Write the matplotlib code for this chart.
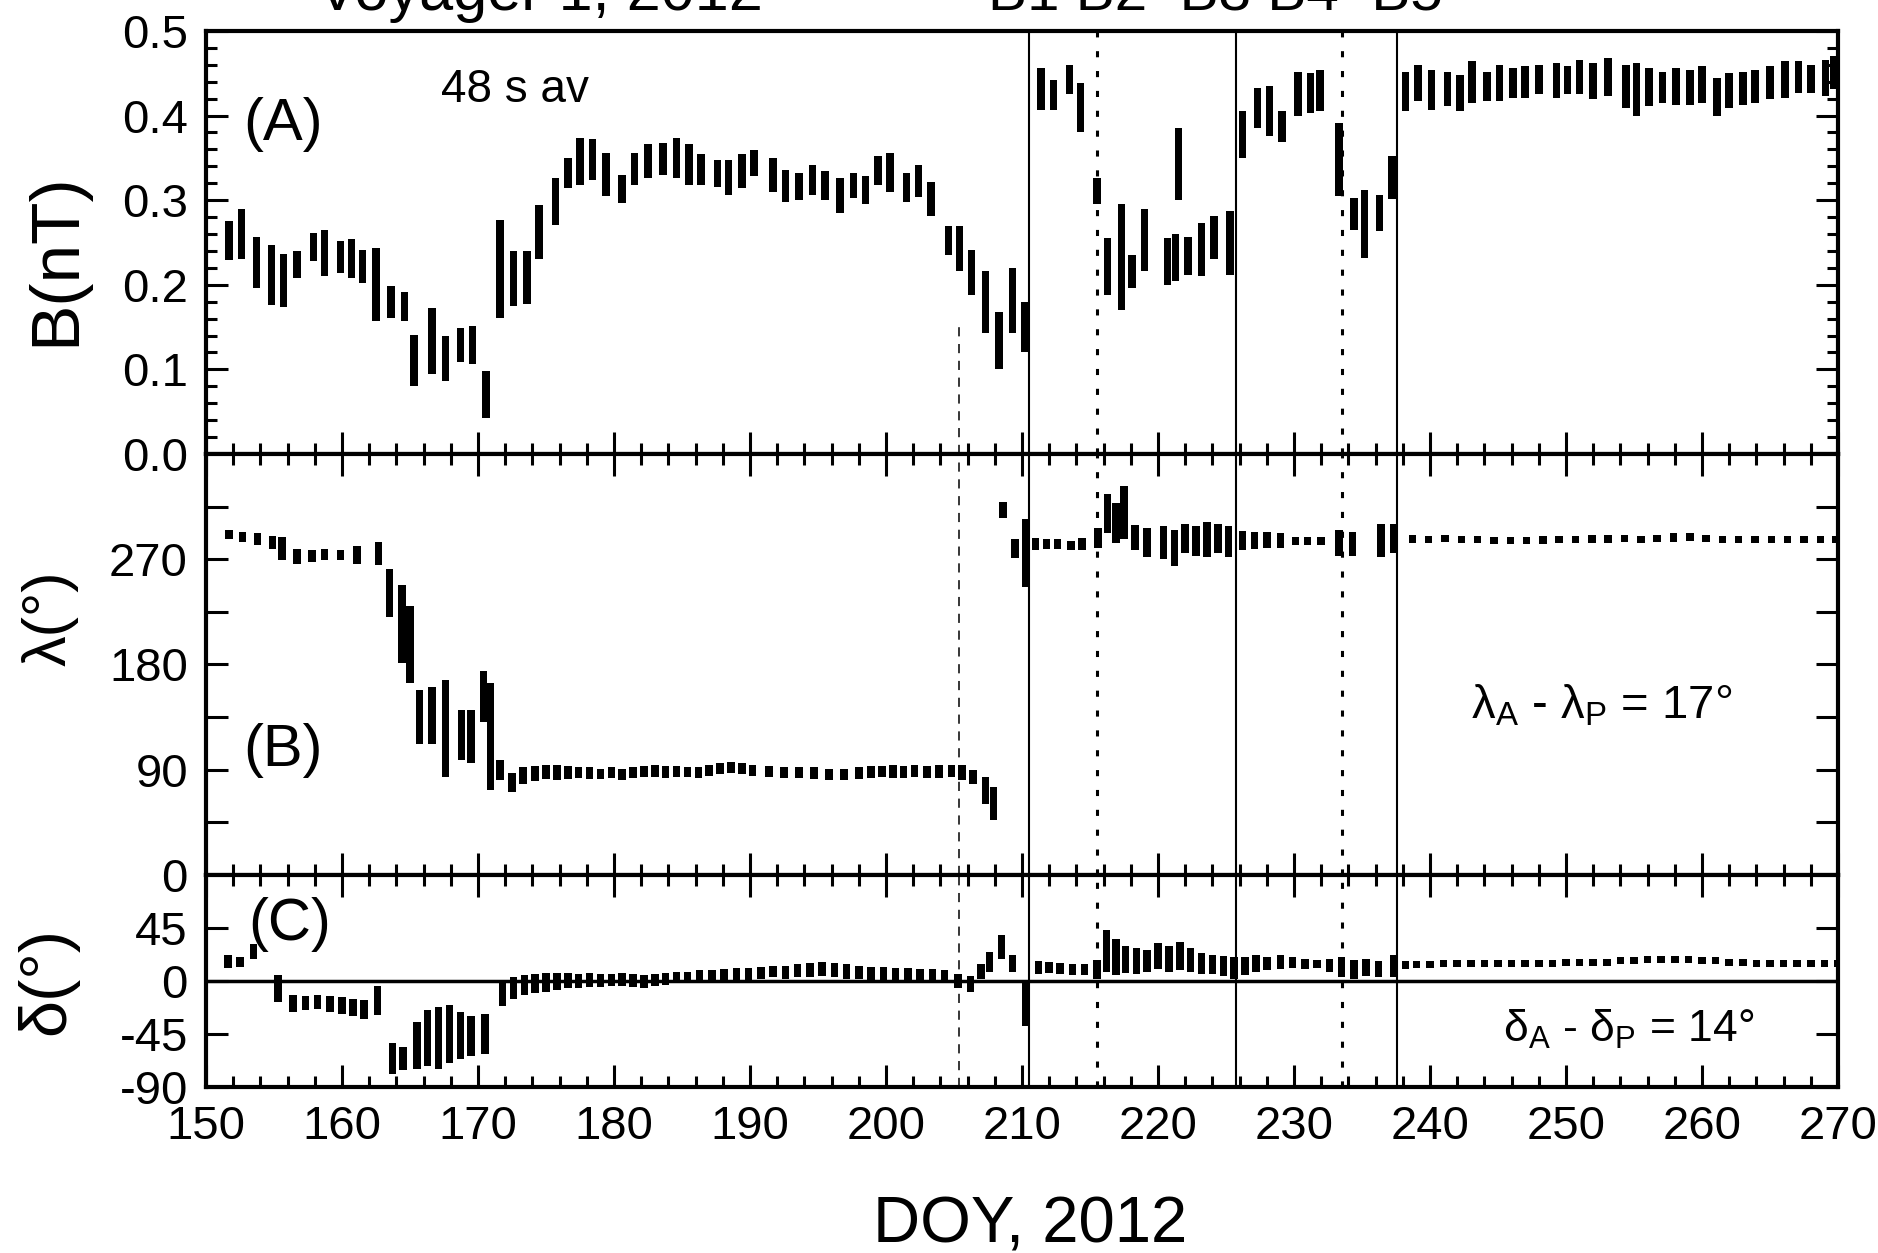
import matplotlib
matplotlib.use('Agg')
import matplotlib.pyplot as plt
import matplotlib.ticker as plticker

plt.rcParams['font.family'] = ['Liberation Sans', 'DejaVu Sans']
plt.rcParams['mathtext.fontset'] = 'custom'
plt.rcParams['mathtext.rm'] = 'Liberation Sans'
plt.rcParams['mathtext.it'] = 'Liberation Sans:italic'
plt.rcParams['axes.unicode_minus'] = False

# (A) field strength, one entry per tracking pass: day, min, max (nT)
b_doy = [151.7, 152.6, 153.7, 154.8, 155.7, 156.7, 157.9, 158.7, 159.9, 160.7,
         161.5, 162.5, 163.6, 164.6, 165.3, 166.6, 167.6, 168.7, 169.6, 170.6,
         171.6, 172.6, 173.6, 174.5, 175.7, 176.6, 177.5, 178.4, 179.4, 180.6,
         181.5, 182.5, 183.6, 184.6, 185.5, 186.4, 187.6, 188.4, 189.4, 190.3,
         191.7, 192.6, 193.6, 194.6, 195.5, 196.6, 197.6, 198.5, 199.4, 200.3,
         201.5, 202.4, 203.3, 204.6, 205.4, 206.3, 207.3, 208.3, 209.3, 210.2,
         211.4, 212.3, 213.5, 214.3, 215.5, 216.3, 217.3, 218.1, 219.0, 220.7,
         221.3, 221.5, 222.2, 223.2, 224.1, 225.3, 226.2, 227.3, 228.2, 229.1,
         230.3, 231.2, 231.9, 233.3, 234.4, 235.2, 236.3, 237.2,
         238.2, 239.1, 240.1, 241.3, 242.2, 243.1, 244.2, 245.1, 246.1, 247.0,
         248.0, 249.3, 250.1, 251.0, 252.0, 253.1, 254.4, 255.2, 256.1, 257.1,
         258.1, 259.1, 260.0, 261.1, 262.0, 263.0, 263.9, 265.0, 266.1, 267.1,
         268.0, 269.1, 269.7]
b_low = [0.229, 0.231, 0.196, 0.176, 0.174, 0.208, 0.228, 0.210, 0.214, 0.208,
         0.202, 0.157, 0.161, 0.157, 0.080, 0.094, 0.086, 0.109, 0.106, 0.042,
         0.161, 0.175, 0.177, 0.231, 0.271, 0.314, 0.318, 0.324, 0.305, 0.297,
         0.318, 0.326, 0.330, 0.326, 0.318, 0.318, 0.316, 0.306, 0.314, 0.328,
         0.310, 0.298, 0.300, 0.306, 0.300, 0.285, 0.302, 0.295, 0.318, 0.310,
         0.298, 0.304, 0.281, 0.235, 0.216, 0.188, 0.143, 0.100, 0.143, 0.120,
         0.407, 0.407, 0.425, 0.381, 0.295, 0.188, 0.170, 0.196, 0.216, 0.200,
         0.205, 0.300, 0.212, 0.210, 0.231, 0.212, 0.350, 0.385, 0.376, 0.369,
         0.399, 0.403, 0.405, 0.305, 0.265, 0.232, 0.263, 0.301,
         0.405, 0.417, 0.407, 0.411, 0.405, 0.415, 0.417, 0.417, 0.421, 0.421,
         0.425, 0.421, 0.425, 0.425, 0.419, 0.423, 0.409, 0.399, 0.411, 0.415,
         0.413, 0.413, 0.415, 0.399, 0.409, 0.413, 0.415, 0.419, 0.421, 0.427,
         0.427, 0.423, 0.431]
b_high = [0.275, 0.289, 0.257, 0.247, 0.236, 0.240, 0.261, 0.265, 0.252, 0.254,
          0.241, 0.243, 0.198, 0.192, 0.141, 0.173, 0.139, 0.149, 0.151, 0.098,
          0.277, 0.240, 0.240, 0.294, 0.326, 0.350, 0.374, 0.372, 0.356, 0.330,
          0.356, 0.366, 0.368, 0.374, 0.366, 0.354, 0.347, 0.347, 0.354, 0.359,
          0.350, 0.336, 0.332, 0.342, 0.334, 0.326, 0.332, 0.328, 0.352, 0.356,
          0.332, 0.342, 0.322, 0.269, 0.269, 0.241, 0.216, 0.168, 0.220, 0.180,
          0.456, 0.442, 0.460, 0.438, 0.326, 0.255, 0.295, 0.235, 0.290, 0.255,
          0.260, 0.385, 0.257, 0.273, 0.281, 0.287, 0.405, 0.433, 0.435, 0.405,
          0.452, 0.450, 0.454, 0.391, 0.302, 0.312, 0.306, 0.352,
          0.452, 0.460, 0.454, 0.452, 0.448, 0.464, 0.452, 0.460, 0.456, 0.458,
          0.460, 0.462, 0.458, 0.466, 0.462, 0.468, 0.460, 0.462, 0.456, 0.452,
          0.456, 0.454, 0.458, 0.444, 0.450, 0.452, 0.454, 0.458, 0.464, 0.464,
          0.460, 0.466, 0.470]

# (B) azimuth angle lambda (deg)
lam_doy = [151.7, 152.7, 153.8, 154.9, 155.6, 156.7, 157.8, 158.7, 159.9, 161.1,
           162.7, 163.5, 164.4, 165.0, 165.7, 166.6, 167.6, 168.8, 169.5, 170.4,
           170.9, 171.6, 172.5, 173.3, 174.2, 175.0, 175.8, 176.6, 177.4, 178.2,
           179.0, 179.8, 180.6, 181.4, 182.2, 183.0, 183.8, 184.6, 185.4, 186.2,
           187.0, 187.8, 188.6, 189.4, 190.2, 191.4, 192.5, 193.6, 194.7, 195.8,
           196.9, 198.0, 198.9, 199.7, 200.5, 201.3, 202.1, 203.0, 203.9, 204.8,
           205.6, 206.4, 207.3, 207.9, 208.6, 209.5, 210.3, 211.0, 211.8, 212.6,
           213.6, 214.4, 215.6, 216.3, 216.9, 217.5, 218.3, 219.2, 220.4, 221.2,
           222.0, 222.8, 223.6, 224.4, 225.2, 226.2, 227.1, 228.0, 229.0, 230.1,
           231.0, 232.0, 233.3, 234.3, 236.4, 237.3,
           238.7, 239.9, 241.1, 242.3, 243.5, 244.7, 245.9, 247.1, 248.3, 249.5,
           250.7, 251.9, 253.1, 254.3, 255.5, 256.7, 257.9, 259.1, 260.3, 261.5,
           262.7, 263.9, 265.1, 266.3, 267.5, 268.7, 269.8]
lam_low = [287, 285, 282, 279, 269, 266, 268, 269, 269, 266,
           265, 221, 181, 164, 112, 112, 84, 98, 96, 131,
           73, 81, 71, 78, 80, 82, 81, 82, 83, 82,
           82, 83, 81, 83, 84, 84, 83, 84, 84, 83,
           85, 86, 87, 86, 85, 84, 83, 83, 82, 81,
           81, 82, 83, 84, 83, 83, 84, 83, 83, 84,
           81, 78, 61, 47, 305, 271, 246, 278, 279, 279,
           278, 278, 280, 292, 284, 287, 278, 272, 270, 264,
           275, 273, 272, 275, 272, 278, 279, 280, 280, 282,
           282, 282, 273, 273, 272, 275,
           284, 284, 285, 284, 284, 283, 283, 283, 283, 284,
           284, 284, 284, 285, 284, 285, 285, 286, 285, 284,
           284, 284, 284, 284, 284, 284, 284]
lam_high = [295, 293, 292, 290, 289, 279, 278, 279, 278, 281,
            285, 262, 248, 230, 158, 161, 167, 141, 141, 174,
            164, 98, 87, 92, 93, 94, 94, 93, 92, 92,
            91, 92, 91, 92, 93, 94, 93, 93, 92, 92,
            94, 96, 97, 96, 94, 93, 92, 92, 92, 91,
            91, 92, 93, 93, 94, 93, 94, 93, 94, 94,
            94, 90, 84, 75, 319, 287, 304, 288, 287, 287,
            286, 288, 297, 326, 318, 333, 299, 297, 298, 295,
            300, 298, 302, 300, 298, 294, 293, 293, 292, 289,
            289, 289, 295, 293, 300, 300,
            291, 290, 291, 290, 290, 289, 289, 289, 290, 290,
            290, 291, 291, 291, 290, 291, 292, 292, 291, 290,
            290, 290, 290, 290, 290, 290, 290]

# (C) elevation angle delta (deg)
del_doy = [151.6, 152.5, 153.5, 155.3, 156.4, 157.3, 158.2, 159.1, 160.0, 160.8,
           161.6, 162.6, 163.7, 164.5, 165.5, 166.3, 167.1, 167.9, 168.7, 169.5,
           170.5, 171.8, 172.6, 173.4, 174.2, 175.0, 175.8, 176.6, 177.4, 178.2,
           179.0, 179.8, 180.6, 181.4, 182.2, 183.0, 183.8, 184.6, 185.4, 186.3,
           187.2, 188.1, 189.0, 189.9, 190.8, 191.7, 192.6, 193.5, 194.4, 195.3,
           196.2, 197.1, 198.0, 198.9, 199.8, 200.7, 201.6, 202.5, 203.4, 204.3,
           205.3, 206.2, 207.0, 207.6, 208.5, 209.3, 210.3, 211.2, 212.0, 212.8,
           213.7, 214.6, 215.5, 216.2, 216.9, 217.6, 218.4, 219.2, 220.0, 220.8,
           221.6, 222.4, 223.2, 224.0, 224.8, 225.6, 226.4, 227.2, 228.0, 229.0,
           229.9, 230.8, 231.7, 232.6, 233.5, 234.4, 235.3, 236.2, 237.3, 238.2,
           239.0, 240.0, 241.0, 242.0, 243.0, 244.0, 245.0, 246.0, 247.0, 248.0,
           249.0, 250.0, 251.0, 252.0, 253.0, 254.0, 255.0, 256.0, 257.0, 258.0,
           259.0, 260.0, 261.0, 262.0, 263.0, 264.0, 265.0, 266.0, 267.0, 268.0,
           269.0, 270.0]
del_low = [11, 12, 19, -18, -26, -25, -24, -26, -28, -30,
           -32, -29, -79, -76, -75, -72, -75, -70, -66, -64,
           -62, -21, -15, -12, -10, -9, -8, -6, -6, -5,
           -5, -4, -4, -5, -6, -4, -3, -2, -1, 0,
           0, 1, 1, 1, 2, 3, 2, 3, 3, 4,
           3, 2, 2, 1, 1, 0, 0, -1, 0, -1,
           -6, -9, 2, 8, 19, 8, -38, 6, 7, 6,
           5, 5, 2, 8, 5, 7, 6, 8, 10, 8,
           9, 8, 6, 6, 4, 2, 5, 8, 9, 10,
           11, 10, 11, 8, 3, 2, 4, 3, 3, 10,
           11, 11, 12, 12, 12, 12, 12, 12, 12, 12,
           12, 13, 13, 13, 13, 14, 14, 15, 15, 15,
           15, 14, 14, 13, 13, 12, 12, 12, 12, 12,
           12, 12]
del_high = [22, 20, 31, 5, -12, -13, -12, -13, -14, -15,
            -16, -4, -53, -56, -35, -25, -22, -20, -26, -30,
            -28, -1, 3, 5, 6, 7, 7, 7, 6, 7,
            6, 6, 7, 6, 5, 6, 7, 8, 8, 9,
            9, 10, 11, 11, 12, 13, 13, 14, 15, 16,
            15, 14, 13, 12, 12, 11, 11, 10, 10, 9,
            6, 4, 14, 25, 39, 22, -1, 17, 16, 15,
            14, 14, 18, 43, 36, 30, 28, 26, 32, 30,
            33, 28, 24, 22, 21, 20, 20, 22, 20, 22,
            20, 19, 18, 19, 20, 18, 19, 17, 22, 17,
            17, 17, 18, 18, 18, 18, 18, 18, 18, 18,
            18, 19, 19, 19, 19, 20, 20, 21, 21, 21,
            21, 20, 20, 19, 19, 18, 18, 18, 18, 18,
            18, 18]

# boundaries (DOY)
solid_days = [210.5, 225.7, 237.6]
dotted_days = [215.5, 233.5]
dashed_day = 205.4
dashed_top_b = 0.158

fig = plt.figure(figsize=(18.78, 12.53), dpi=100)
left, width = 0.1097, 0.869
ax_a = fig.add_axes([left, 0.6377, width, 0.3376])
ax_b = fig.add_axes([left, 0.3017, width, 0.3360], sharex=ax_a)
ax_c = fig.add_axes([left, 0.1325, width, 0.1692], sharex=ax_a)

bar_w = 0.55


def range_bars(ax, x, lo, hi):
    heights = [h - l for l, h in zip(lo, hi)]
    ax.bar(x, heights, bottom=lo, width=bar_w, color='k', linewidth=0)


range_bars(ax_a, b_doy, b_low, b_high)
range_bars(ax_b, lam_doy, lam_low, lam_high)
range_bars(ax_c, del_doy, del_low, del_high)

for ax in (ax_a, ax_b, ax_c):
    for d in solid_days:
        ax.axvline(d, color='k', lw=1.5)
    for d in dotted_days:
        ax.axvline(d, color='k', lw=2.2, linestyle=(0, (2, 4.5)))
    for s in ax.spines.values():
        s.set_linewidth(3)
    ax.tick_params(which='major', direction='in', length=16, width=2.2,
                   labelsize=34, pad=13)
    ax.tick_params(which='minor', direction='in', length=8, width=2.2)

ax_a.vlines(dashed_day, 0, dashed_top_b, color='k', lw=1.1, linestyle=(0, (6, 5)))
ax_b.axvline(dashed_day, color='k', lw=1.1, linestyle=(0, (6, 5)))
ax_c.axvline(dashed_day, color='k', lw=1.1, linestyle=(0, (6, 5)))
ax_c.axhline(0, color='k', lw=2.5)

ax_a.set_xlim(150, 270)
ax_c.xaxis.set_major_locator(plticker.MultipleLocator(10))
ax_c.xaxis.set_minor_locator(plticker.MultipleLocator(2))

ax_a.set_ylim(0, 0.5)
ax_a.yaxis.set_major_locator(plticker.MultipleLocator(0.1))
ax_a.yaxis.set_minor_locator(plticker.MultipleLocator(0.02))
ax_a.yaxis.set_major_formatter(plticker.FormatStrFormatter('%.1f'))
ax_a.tick_params(which='both', top=False, right=True, labelbottom=False)

ax_b.set_ylim(0, 360)
ax_b.set_yticks(range(0, 360, 45))
ax_b.set_yticklabels(['0', '', '90', '', '180', '', '270', ''])
ax_b.tick_params(which='both', top=True, right=True, labelbottom=False)

ax_c.set_ylim(-90, 90)
ax_c.set_yticks([-90, -45, 0, 45])
ax_c.tick_params(which='both', top=True, right=True)
ax_c.tick_params(axis='x', pad=13)

ax_a.set_ylabel('B(nT)', fontsize=50)
ax_a.yaxis.set_label_coords(-0.072, 0.46)
ax_b.set_ylabel('λ(°)', fontsize=44)
ax_b.yaxis.set_label_coords(-0.078, 0.61)
ax_c.set_ylabel('δ(°)', fontsize=48)
ax_c.yaxis.set_label_coords(-0.078, 0.5)
ax_c.set_xlabel('DOY, 2012', fontsize=47)
ax_c.xaxis.set_label_coords(0.505, -0.51)

ax_a.text(0.0227, 0.742, '(A)', transform=ax_a.transAxes, fontsize=43)
ax_a.text(0.144, 0.832, '48 s av', transform=ax_a.transAxes, fontsize=33)
ax_b.text(0.0227, 0.258, '(B)', transform=ax_b.transAxes, fontsize=43)
ax_b.text(0.775, 0.371, r'λ$_\mathrm{A}$ - λ$_\mathrm{P}$ = 17°',
          transform=ax_b.transAxes, fontsize=34)
ax_c.text(0.026, 0.693, '(C)', transform=ax_c.transAxes, fontsize=43)
ax_c.text(0.795, 0.212, r'δ$_\mathrm{A}$ - δ$_\mathrm{P}$ = 14°',
          transform=ax_c.transAxes, fontsize=32)

# title line, mostly cut off by the top edge of the page
fig.text(0.1688, 0.992, 'Voyager 1, 2012', fontsize=44, va='baseline')
fig.text(0.526, 0.992, 'B1 B2  B3 B4  B5', fontsize=42, va='baseline')

fig.savefig('out.png', dpi=100)
